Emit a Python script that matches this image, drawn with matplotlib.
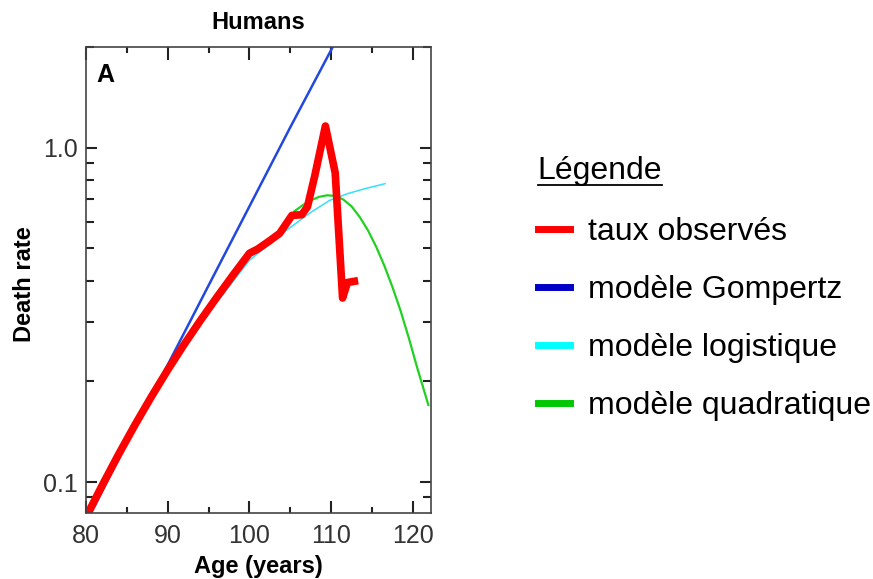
import matplotlib.pyplot as plt
from matplotlib.lines import Line2D

# observed death rates (red)
obs_age = [80, 82, 84, 86, 88, 90, 92, 94, 96, 98, 100, 101, 102.5, 103.7, 105.2,
           106.4, 107.1, 108, 109.3, 110.5, 111.4, 112, 113.3]
obs_rate = [0.0785, 0.0979, 0.1211, 0.1483, 0.1799, 0.2163, 0.2576, 0.3041, 0.3565, 0.4159,
            0.483, 0.497, 0.527, 0.554, 0.627, 0.63, 0.665, 0.824, 1.16, 0.84,
            0.355, 0.395, 0.40]

# Gompertz model (blue)
gomp_age = [80, 85, 90, 95, 100, 105, 110.2]
gomp_rate = [0.0755, 0.131, 0.224, 0.387, 0.667, 1.15, 2.0]

# logistic model (cyan)
logi_age = [80, 85, 90, 95, 100, 103.7, 105, 107.5, 109.8, 112, 114, 116.6]
logi_rate = [0.079, 0.133, 0.212, 0.32, 0.46, 0.546, 0.577, 0.64, 0.695, 0.728, 0.752, 0.78]

# quadratic model (green)
quad_age = [105.5, 106.5, 107.5, 108.5, 109.5, 110.5, 111.5, 112.5, 113.5, 114.5,
            115.5, 116.5, 117.5, 118.5, 119.5, 120.5, 121.9]
quad_rate = [0.645, 0.672, 0.695, 0.712, 0.72, 0.717, 0.699, 0.667, 0.62, 0.566,
             0.506, 0.444, 0.383, 0.325, 0.27, 0.221, 0.17]

legend_labels = ['taux observés', 'modèle Gompertz', 'modèle logistique', 'modèle quadratique']
legend_colors = ['#ff0000', '#0000c8', '#00ffff', '#00c800']

plt.rcParams['font.family'] = ['Liberation Sans', 'DejaVu Sans']

fig = plt.figure(figsize=(8.73, 5.79), dpi=100)
ax = fig.add_axes([0.0985, 0.114, 0.395, 0.805])

ax.plot(gomp_age, gomp_rate, color='#2248e0', lw=1.8)
ax.plot(logi_age, logi_rate, color='#33e0ff', lw=1.1)
ax.plot(quad_age, quad_rate, color='#22d022', lw=1.6)
ax.plot(obs_age, obs_rate, color='#ff0000', lw=5.5, solid_joinstyle='round',
        solid_capstyle='butt')

ax.set_yscale('log')
ax.set_xlim(80, 122.2)
ax.set_ylim(0.0808, 2.0)
ax.set_xticks([80, 90, 100, 110, 120])
ax.set_xticks([85, 95, 105, 115], minor=True)
ax.set_yticks([0.1, 1.0])
ax.set_yticklabels(['0.1', '1.0'])
ax.yaxis.set_minor_formatter(plt.NullFormatter())
ax.tick_params(which='both', direction='in', top=True, right=True, color='#222222',
               labelsize=18, labelcolor='#333333')
ax.tick_params(axis='x', which='major', length=9, width=1.5, pad=8)
ax.tick_params(axis='x', which='minor', length=4, width=1.5)
ax.tick_params(axis='y', which='major', length=8, width=1.5, pad=6)
ax.tick_params(axis='y', which='minor', length=6, width=1.5)
for s in ax.spines.values():
    s.set_color('#444444')
    s.set_linewidth(1.2)

ax.set_title('Humans', fontsize=17, fontweight='bold', pad=13)
ax.set_xlabel('Age (years)', fontsize=17, fontweight='bold')
ax.set_ylabel('Death rate', fontsize=17, fontweight='bold')
ax.xaxis.set_label_coords(0.5, -0.09)
ax.yaxis.set_label_coords(-0.145, 0.49)
ax.text(0.03, 0.965, 'A', transform=ax.transAxes, fontsize=18, fontweight='bold',
        va='top', ha='left')

# legend
fig.text(0.616, 0.7047, 'Légende', fontsize=23, va='center', ha='left')
fig.add_artist(Line2D([538 / 873, 662 / 873], [0.6805, 0.6805], color='black',
                      lw=1.3, transform=fig.transFigure))
handles = [Line2D([0], [0], color=c, lw=5) for c in legend_colors]
fig.legend(handles, legend_labels, loc='upper left', bbox_to_anchor=(0.616, 0.625),
           frameon=False, fontsize=23, borderpad=0, borderaxespad=0,
           handlelength=1.0, handletextpad=0.56, labelspacing=0.88)

fig.savefig('out.png')
